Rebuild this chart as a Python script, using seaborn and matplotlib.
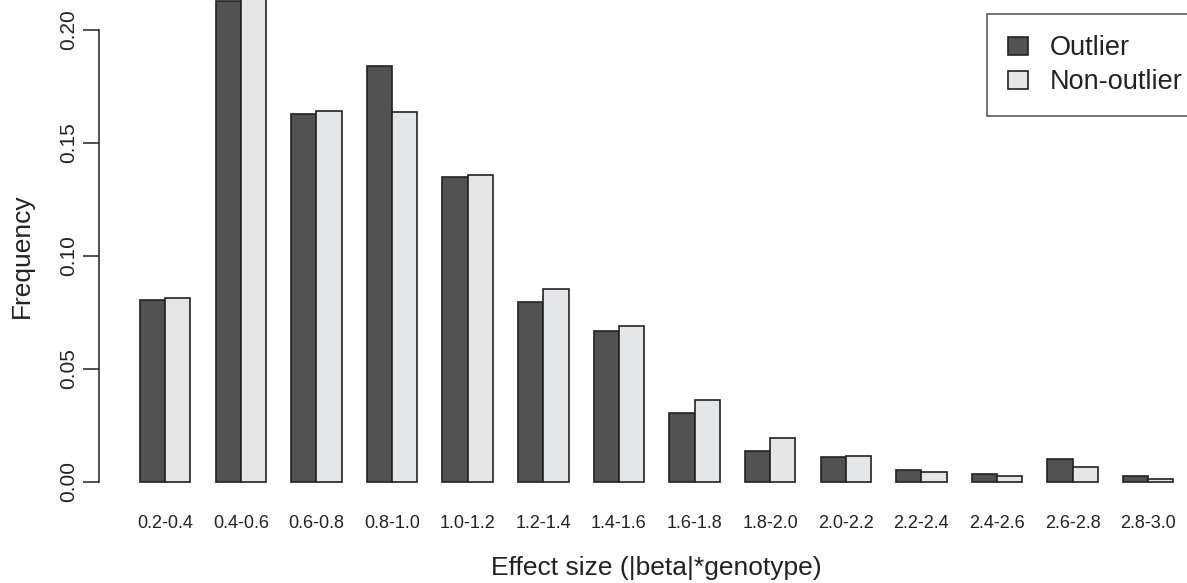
import numpy as np
import pandas as pd
import matplotlib.pyplot as plt
import seaborn as sns

## effect size bins and frequency per group
bins = ['0.2-0.4', '0.4-0.6', '0.6-0.8', '0.8-1.0', '1.0-1.2', '1.2-1.4', '1.4-1.6',
        '1.6-1.8', '1.8-2.0', '2.0-2.2', '2.2-2.4', '2.4-2.6', '2.6-2.8', '2.8-3.0']
outlier = [0.0805, 0.2130, 0.1628, 0.1842, 0.1350, 0.0797, 0.0668,
           0.0304, 0.0139, 0.0112, 0.0052, 0.0037, 0.0102, 0.0024]
non_outlier = [0.0816, 0.2250, 0.1643, 0.1639, 0.1360, 0.0854, 0.0690,
               0.0363, 0.0196, 0.0116, 0.0044, 0.0027, 0.0066, 0.0015]
groups = ['Outlier', 'Non-outlier']
yticks = [0.00, 0.05, 0.10, 0.15, 0.20]

df = pd.DataFrame({
    'bin': bins * 2,
    'group': [groups[0]] * len(bins) + [groups[1]] * len(bins),
    'freq': outlier + non_outlier,
})

sns.set_style('white')
plt.rcParams['font.family'] = ['Liberation Sans', 'DejaVu Sans']
ink = '#222222'

fig = plt.figure(figsize=(11.87, 5.83), dpi=100)
# plot region runs a bit past the right edge, like the cropped original
ax = fig.add_axes([0.0832, 0.1424, 0.9401, 0.8370])

sns.barplot(data=df, x='bin', y='freq', hue='group', hue_order=groups,
            palette=['#515151', '#e5e6e8'], saturation=1, width=2/3,
            edgecolor=ink, linewidth=1.2, ax=ax)

# bars are allowed to go over the plot region (xpd)
for p in ax.patches:
    p.set_clip_on(False)

ax.set_xlim(-0.88, 13.88)
ax.set_ylim(-0.008, 0.208)

ax.set_yticks(yticks)
ax.set_yticklabels(['%.2f' % v for v in yticks], rotation=90, va='center', fontsize=15, color=ink)
ax.tick_params(axis='y', length=11.3, width=1.1, direction='out', pad=3.6, color=ink, left=True)
ax.tick_params(axis='x', length=0, pad=11, labelsize=13, labelcolor=ink)

for s in ['top', 'right', 'bottom']:
    ax.spines[s].set_visible(False)
ax.spines['left'].set_bounds(0, 0.2)
ax.spines['left'].set_linewidth(1.1)
ax.spines['left'].set_color(ink)

ax.set_xlabel('Effect size (|beta|*genotype)', fontsize=19, labelpad=17, color=ink)
ax.set_ylabel('Frequency', fontsize=19, labelpad=18, color=ink)

handles, labels = ax.get_legend_handles_labels()
leg = ax.legend(handles, labels, loc='upper left', bbox_to_anchor=(987 / 1187, 1 - 14 / 583),
                bbox_transform=fig.transFigure, borderaxespad=0,
                fontsize=19.5, fancybox=False, frameon=True, borderpad=0.78,
                handlelength=0.75, handleheight=0.65, handletextpad=0.8, labelspacing=0.3)
leg.get_frame().set_edgecolor(ink)
leg.get_frame().set_linewidth(1.1)
for t in leg.get_texts():
    t.set_color(ink)

plt.savefig('out.png', dpi=100)
